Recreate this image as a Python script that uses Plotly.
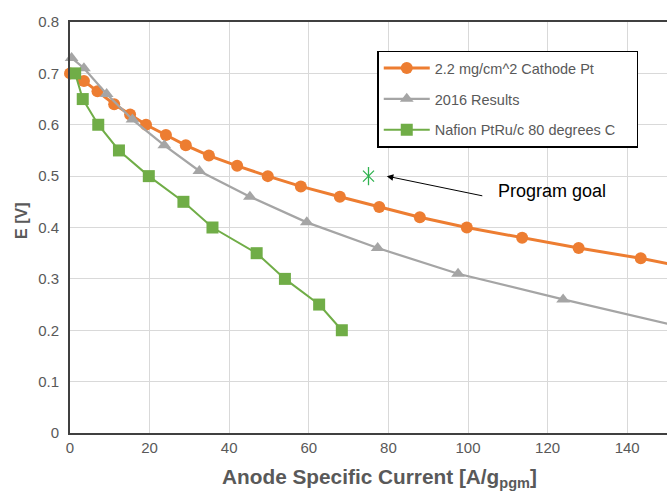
import plotly.graph_objects as go

# Data
cathode_x = [0, 3.5, 6.9, 11.1, 15.1, 19.1, 24.1, 29.1, 34.9, 42.0, 49.7, 58.0, 67.8, 77.7, 87.9, 99.7, 113.6, 127.8, 143.4, 160]
cathode_y = [0.70, 0.685, 0.665, 0.64, 0.62, 0.60, 0.58, 0.56, 0.54, 0.52, 0.50, 0.48, 0.46, 0.44, 0.42, 0.40, 0.38, 0.36, 0.34, 0.315]

r2016_x = [0.4, 3.5, 9.2, 15.7, 23.7, 32.5, 45.2, 59.5, 77.3, 97.5, 123.9, 160]
r2016_y = [0.73, 0.71, 0.66, 0.61, 0.56, 0.51, 0.46, 0.41, 0.36, 0.31, 0.26, 0.195]

nafion_x = [1.3, 3.2, 7.1, 12.3, 19.8, 28.5, 35.8, 46.9, 54.0, 62.6, 68.3]
nafion_y = [0.70, 0.65, 0.60, 0.55, 0.50, 0.45, 0.40, 0.35, 0.30, 0.25, 0.20]

goal_x = [75]
goal_y = [0.5]

x_ticks = [0, 20, 40, 60, 80, 100, 120, 140]
y_ticks = [0, 0.1, 0.2, 0.3, 0.4, 0.5, 0.6, 0.7, 0.8]
y_ticktext = ["0", "0.1", "0.2", "0.3", "0.4", "0.5", "0.6", "0.7", "0.8"]

ORANGE = "#ED7D31"
GRAY = "#A5A5A5"
GREEN = "#70AD47"
STAR = "#2FB24F"
TXT = "#595959"
PAD = "\u00a0" * 4

fig = go.Figure()
fig.add_trace(go.Scatter(x=cathode_x, y=cathode_y, mode="lines+markers",
                         name="2.2 mg/cm^2 Cathode Pt", legendgroup="a",
                         cliponaxis=False,
                         line=dict(color=ORANGE, width=3),
                         marker=dict(symbol="circle", size=12, color=ORANGE)))
fig.add_trace(go.Scatter(x=r2016_x, y=r2016_y, mode="lines+markers",
                         name="2016 Results", legendgroup="b",
                         cliponaxis=False,
                         line=dict(color=GRAY, width=2.25),
                         marker=dict(symbol="triangle-up", size=12, color=GRAY)))
fig.add_trace(go.Scatter(x=nafion_x, y=nafion_y, mode="lines+markers",
                         name="Nafion PtRu/c 80 degrees C" + PAD, legendgroup="c",
                         cliponaxis=False,
                         line=dict(color=GREEN, width=2),
                         marker=dict(symbol="square", size=12, color=GREEN)))
fig.add_trace(go.Scatter(x=goal_x, y=goal_y, mode="markers", showlegend=False,
                         marker=dict(symbol="x-thin-open", size=11, color=STAR,
                                     line=dict(width=1.3, color=STAR))))
fig.add_trace(go.Scatter(x=goal_x, y=goal_y, mode="markers", showlegend=False,
                         marker=dict(symbol="line-ns-open", size=13, color=STAR,
                                     line=dict(width=1.3, color=STAR))))

fig.add_annotation(x=79.6, y=0.5, xref="x", yref="y", text="", showarrow=True,
                   ax=97, ay=20, arrowhead=2, arrowsize=1.3, arrowwidth=1,
                   arrowcolor="black", standoff=0)
fig.add_annotation(x=0.713, y=0.589, xref="paper", yref="paper",
                   text="Program goal", showarrow=False, xanchor="left",
                   yanchor="middle",
                   font=dict(family="Liberation Sans, Arial", size=18, color="black"))

# Axis titles
fig.add_annotation(x=0.5176, y=-0.072, xref="paper", yref="paper",
                   text="<b>Anode Specific Current [A/g<sub>pgm</sub>]</b>",
                   showarrow=False, xanchor="center", yanchor="top",
                   font=dict(family="Liberation Sans, Arial", size=20.8, color=TXT))
fig.add_annotation(x=-0.0804, y=0.516, xref="paper", yref="paper",
                   text="<b>E [V]</b>", textangle=-90,
                   showarrow=False, xanchor="center", yanchor="middle",
                   font=dict(family="Liberation Sans, Arial", size=16, color=TXT))

fig.update_layout(
    width=667, height=491,
    margin=dict(l=70, r=0, t=22, b=58),
    paper_bgcolor="white", plot_bgcolor="white",
    font=dict(family="Liberation Sans, Arial", color=TXT),
    showlegend=True,
    legend=dict(x=0.515, y=0.93, xanchor="left", yanchor="top",
                bordercolor="black", borderwidth=1.3, bgcolor="white",
                font=dict(size=14.5, color=TXT), tracegroupgap=9,
                itemwidth=46),
    xaxis=dict(range=[0, 150], tickvals=x_ticks, showgrid=True,
               gridcolor="#D9D9D9", gridwidth=1.3,
               showline=True, linecolor="#404040", linewidth=1.8, mirror=True,
               ticks="", tickfont=dict(size=15, color=TXT), zeroline=False),
    yaxis=dict(range=[0, 0.8], tickvals=y_ticks, ticktext=y_ticktext,
               showgrid=True, gridcolor="#D9D9D9", gridwidth=1.3,
               showline=True, linecolor="#404040", linewidth=1.8,
               ticks="", tickfont=dict(size=15, color=TXT), zeroline=False,
               ticklabelstandoff=6),
)

fig.write_html("out.html")
